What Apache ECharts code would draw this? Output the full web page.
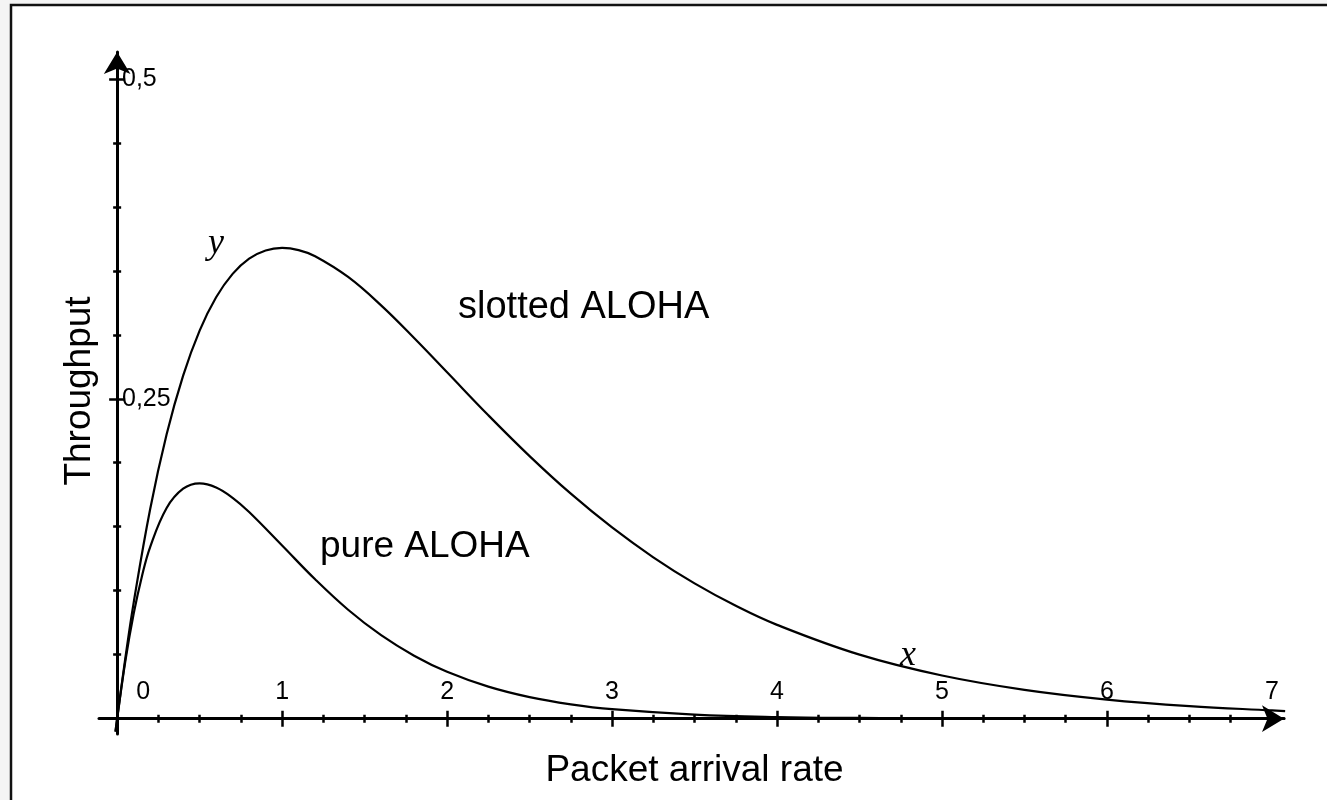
<!DOCTYPE html>
<html>
<head>
<meta charset="utf-8">
<script src="https://cdn.jsdelivr.net/npm/echarts@6/dist/echarts.min.js"></script>
<style>
html,body{margin:0;padding:0;background:#f4f4f4;}
#chart{width:1327px;height:800px;}
</style>
</head>
<body>
<div id="chart"></div>
<script>
// ---- data ----
const SLOTTED_X = [-0.01, 0, 0.05, 0.1, 0.2, 0.3, 0.4, 0.5, 0.6, 0.7, 0.8, 0.9, 1.0, 1.1, 1.2, 1.4, 1.6, 1.8, 2.0, 2.25, 2.5, 2.75, 3.0, 3.25, 3.5, 3.75, 4.0, 4.5, 5.0, 5.5, 6.0, 6.5, 7.0, 7.08];
const SLOTTED_Y = [-0.0101, 0, 0.0476, 0.0905, 0.1637, 0.2222, 0.2681, 0.3033, 0.3293, 0.3476, 0.3595, 0.3659, 0.3679, 0.3662, 0.3614, 0.3452, 0.3230, 0.2975, 0.2707, 0.2371, 0.2052, 0.1758, 0.1494, 0.1261, 0.1057, 0.0882, 0.0733, 0.0500, 0.0337, 0.0225, 0.0149, 0.0098, 0.0064, 0.0059];
const PURE_X = [-0.01, 0, 0.05, 0.1, 0.15, 0.2, 0.3, 0.4, 0.5, 0.6, 0.7, 0.8, 1.0, 1.2, 1.4, 1.6, 1.8, 2.0, 2.25, 2.5, 2.75, 3.0, 3.5, 4.0, 4.5, 5.0, 6.0, 7.0, 7.08];
const PURE_Y = [-0.0102, 0, 0.0452, 0.0819, 0.1111, 0.1341, 0.1646, 0.1797, 0.1839, 0.1807, 0.1726, 0.1615, 0.1353, 0.1089, 0.0851, 0.0652, 0.0492, 0.0366, 0.0250, 0.0168, 0.0112, 0.0074, 0.0032, 0.0013, 0.00055, 0.0002, 0.00004, 0, 0];

const X_MAJOR = [0, 1, 2, 3, 4, 5, 6];
const X_LABEL_VALUES = [0, 1, 2, 3, 4, 5, 6, 7];
const X_LABELS = ['0', '1', '2', '3', '4', '5', '6', '7'];
const X_MINOR = [0.25, 0.5, 0.75, 1.25, 1.5, 1.75, 2.25, 2.5, 2.75, 3.25, 3.5, 3.75, 4.25, 4.5, 4.75, 5.25, 5.5, 5.75, 6.25, 6.5, 6.75];
const Y_MAJOR = [0.25, 0.5];
const Y_LABELS = ['0,25', '0,5'];
const Y_MINOR = [0.05, 0.1, 0.15, 0.2, 0.3, 0.35, 0.4, 0.45];

const X_TITLE = 'Packet arrival rate';
const Y_TITLE = 'Throughput';
const NOTES = { slotted: 'slotted ALOHA', pure: 'pure ALOHA', yMark: 'y', xMark: 'x' };

const X_MIN = -0.11, X_MAX = 7.073, Y_MIN = -0.012, Y_MAX = 0.521;

// ---- chart ----
const SANS = '"Liberation Sans", Arial, Helvetica, sans-serif';
const SERIF = '"Liberation Serif", "Times New Roman", serif';
const INK = '#000';

function xAxisDef(i, tickVals, tickLen, inside) {
  const base = {
    type: 'value', gridIndex: 0, position: 'bottom', min: X_MIN, max: X_MAX,
    axisLine: { show: i === 0, onZero: true, symbol: ['none', 'arrow'], symbolSize: [20, 22],
      lineStyle: { color: INK, width: 3 } },
    axisTick: { show: true, customValues: tickVals, length: tickLen, inside: inside,
      lineStyle: { color: INK, width: 2.5 } },
    axisLabel: { show: false },
    splitLine: { show: false }
  };
  if (i === 0) {
    base.axisLabel = {
      show: true, inside: true, margin: 29, customValues: X_LABEL_VALUES,
      color: INK, fontFamily: SANS, fontSize: 25,
      formatter: function (v) {
        const lab = X_LABELS[X_LABEL_VALUES.indexOf(v)];
        return v === 0 ? '{z|' + lab + '}' : lab;
      },
      rich: { z: { padding: [0, 0, 0, 52], fontSize: 25, fontFamily: SANS, color: INK } }
    };
    base.name = X_TITLE;
    base.nameLocation = 'middle';
    base.nameGap = 18;
    base.nameTextStyle = { fontFamily: SANS, fontSize: 37, color: INK, padding: [0, 0, 0, 6] };
  }
  return base;
}
function yAxisDef(i, tickVals, tickLen, inside) {
  const base = {
    type: 'value', gridIndex: 0, position: 'left', min: Y_MIN, max: Y_MAX,
    axisLine: { show: i === 0, onZero: true, symbol: ['none', 'arrow'], symbolSize: [20, 22],
      lineStyle: { color: INK, width: 3 } },
    axisTick: { show: true, customValues: tickVals, length: tickLen, inside: inside,
      lineStyle: { color: INK, width: 2.5 } },
    axisLabel: { show: false },
    splitLine: { show: false }
  };
  if (i === 0) {
    base.axisLabel = {
      show: true, inside: true, margin: 4, customValues: Y_MAJOR, align: 'left',
      color: INK, fontFamily: SANS, fontSize: 25, padding: [0, 0, 6, 19],
      formatter: function (v) { return Y_LABELS[Y_MAJOR.indexOf(v)]; }
    };
    base.name = Y_TITLE;
    base.nameLocation = 'middle';
    base.nameRotate = 90;
    base.nameGap = 0.5;
    base.nameTextStyle = { fontFamily: SANS, fontSize: 37, color: INK, padding: [0, 0, 0, 4] };
  }
  return base;
}

const chart = echarts.init(document.getElementById('chart'), null, { renderer: 'canvas' });
chart.setOption({
  animation: false,
  backgroundColor: '#f4f4f4',
  grid: { left: 99, right: 43, top: 52, bottom: 66, containLabel: false },
  xAxis: [
    xAxisDef(0, X_MAJOR, 8, false),
    xAxisDef(1, X_MAJOR, 8, true),
    xAxisDef(2, X_MINOR, 4, false),
    xAxisDef(3, X_MINOR, 4, true)
  ],
  yAxis: [
    yAxisDef(0, Y_MAJOR, 8, false),
    yAxisDef(1, Y_MAJOR, 8, true),
    yAxisDef(2, Y_MINOR, 4, false),
    yAxisDef(3, Y_MINOR, 4, true)
  ],
  graphic: [
    { type: 'rect', z: -100, silent: true,
      shape: { x: 11, y: 5, width: 1400, height: 900 },
      style: { fill: '#fff', stroke: '#111', lineWidth: 2.5 } },
    { type: 'text', x: 458, y: 308, silent: true,
      style: { text: NOTES.slotted, fontFamily: SANS, fontSize: 38, fill: INK, align: 'left', verticalAlign: 'middle' } },
    { type: 'text', x: 320, y: 547, silent: true,
      style: { text: NOTES.pure, fontFamily: SANS, fontSize: 37, fill: INK, align: 'left', verticalAlign: 'middle' } },
    { type: 'text', x: 216, y: 244, silent: true,
      style: { text: NOTES.yMark, fontFamily: SERIF, fontStyle: 'italic', fontSize: 36, fill: INK, align: 'center', verticalAlign: 'middle' } },
    { type: 'text', x: 908, y: 656, silent: true,
      style: { text: NOTES.xMark, fontFamily: SERIF, fontStyle: 'italic', fontSize: 36, fill: INK, align: 'center', verticalAlign: 'middle' } }
  ],
  series: [
    { name: NOTES.slotted, type: 'line', xAxisIndex: 0, yAxisIndex: 0,
      data: SLOTTED_X.map((x, i) => [x, SLOTTED_Y[i]]),
      showSymbol: false, smooth: 0.4, clip: false, z: 5,
      lineStyle: { color: INK, width: 2.2 }, itemStyle: { color: INK } },
    { name: NOTES.pure, type: 'line', xAxisIndex: 0, yAxisIndex: 0,
      data: PURE_X.map((x, i) => [x, PURE_Y[i]]),
      showSymbol: false, smooth: 0.4, clip: false, z: 5,
      lineStyle: { color: INK, width: 2.2 }, itemStyle: { color: INK } }
  ]
});
</script>
</body>
</html>
